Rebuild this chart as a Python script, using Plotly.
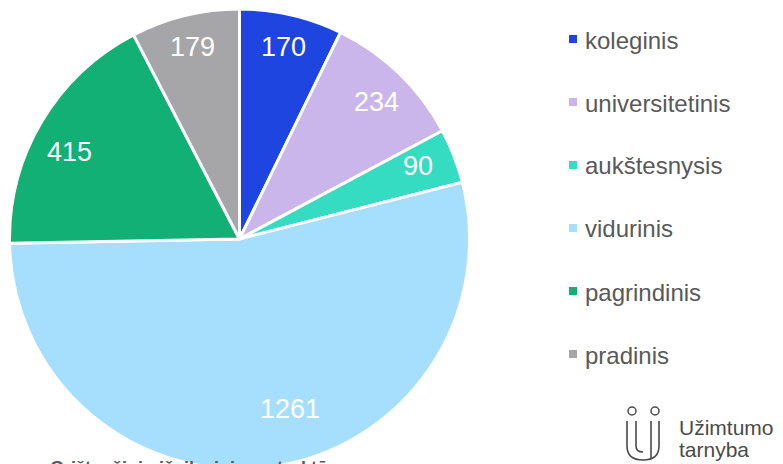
import math
import plotly.graph_objects as go

# ---- data ----
categories = ["koleginis", "universitetinis", "aukštesnysis", "vidurinis", "pagrindinis", "pradinis"]
values = [170, 234, 90, 1261, 415, 179]
colors = ["#1F45E0", "#CAB6EA", "#35DCC1", "#A6DEFD", "#12B074", "#A6A6A8"]
title_text = "Grįžtančiųjų išsilavinimo struktūra"
logo_lines = ["Užimtumo", "tarnyba"]

# ---- style (label placement inside slices) ----
label_radius = [0.855, 0.84, 0.84, 0.77, 0.83, 0.86]
label_angle_shift = [0, 1, -1, -8.8, -3.6, 0]

W, H = 783, 464
OFF = 8  # page body margin offset


def px(x):
    return (x - OFF) / W


def py(y):
    return 1 - (y - OFF) / H


# pie geometry (pixels, as seen on the page)
cx, cy, r = 239.5, 239, 230

fig = go.Figure()
fig.add_trace(go.Pie(
    labels=categories,
    values=values,
    sort=False,
    direction="clockwise",
    rotation=0,
    marker=dict(colors=colors, line=dict(color="white", width=3)),
    textinfo="none",
    hoverinfo="label+value+percent",
    showlegend=False,
    domain=dict(x=[max(0, px(cx - r)), px(cx + r)], y=[max(0, py(cy + r)), min(1, py(cy - r))]),
))

shapes = []
annotations = []

# value labels placed at slice mid-angles
total = sum(values)
cum = 0
for i, v in enumerate(values):
    mid = (cum + v / 2) / total * 360 + label_angle_shift[i]
    cum += v
    rr = label_radius[i] * r
    lx = cx + rr * math.sin(math.radians(mid))
    ly = cy - rr * math.cos(math.radians(mid))
    annotations.append(dict(text=str(v), xref="paper", yref="paper",
                            x=px(lx), y=py(ly), xanchor="center", yanchor="middle",
                            showarrow=False,
                            font=dict(family="Liberation Sans, Arial", size=27, color="white")))

# manual legend
leg_x0, leg_y0, leg_dy, sq = 569, 39, 63, 8
for i, (lab, col) in enumerate(zip(categories, colors)):
    yc = leg_y0 + i * leg_dy
    shapes.append(dict(type="rect", xref="paper", yref="paper",
                       x0=px(leg_x0), x1=px(leg_x0 + sq),
                       y0=py(yc + sq / 2), y1=py(yc - sq / 2),
                       fillcolor=col, line=dict(width=0)))
    annotations.append(dict(text=lab, xref="paper", yref="paper",
                            x=px(583), y=py(yc + 1), xanchor="left", yanchor="middle",
                            showarrow=False,
                            font=dict(family="Liberation Sans, Arial", size=24, color="#595959")))

# title (cut off at the bottom, as in the reference)
annotations.append(dict(text="<b>" + title_text + "</b>", xref="paper", yref="paper",
                        x=px(48), y=py(456), xanchor="left", yanchor="top", showarrow=False,
                        font=dict(family="Liberation Sans, Arial", size=18, color="#595959")))

# logo text
logo_font = dict(family="Liberation Sans, Arial", size=21, color="#4A4A4A")
annotations.append(dict(text=logo_lines[0], xref="paper", yref="paper",
                        x=px(677), y=py(427), xanchor="left", yanchor="middle", showarrow=False,
                        font=logo_font))
annotations.append(dict(text=logo_lines[1], xref="paper", yref="paper",
                        x=px(677), y=py(449), xanchor="left", yanchor="middle", showarrow=False,
                        font=logo_font))

logo_col = "#4A4A4A"
for ccx in (632, 655):
    shapes.append(dict(type="circle", xref="paper", yref="paper",
                       x0=px(ccx - 4), x1=px(ccx + 4), y0=py(415), y1=py(407),
                       line=dict(color=logo_col, width=1.5)))


def P(x, y):
    return f"{px(x):.5f},{py(y):.5f}"


outer = f"M {P(627,421)} L {P(627,446)} Q {P(627,460)} {P(643,460)} Q {P(659,460)} {P(659,446)} L {P(659,421)}"
inner_left = f"M {P(636,421)} L {P(636,446)} Q {P(636,452)} {P(643,452)}"
inner_right = f"M {P(651,421)} L {P(651,458)}"
for p in (outer, inner_left, inner_right):
    shapes.append(dict(type="path", xref="paper", yref="paper", path=p,
                       line=dict(color=logo_col, width=1.6)))

fig.update_layout(
    width=W, height=H,
    margin=dict(l=0, r=0, t=0, b=0),
    paper_bgcolor="white",
    plot_bgcolor="white",
    shapes=shapes,
    annotations=annotations,
)

fig.write_html("out.html")
